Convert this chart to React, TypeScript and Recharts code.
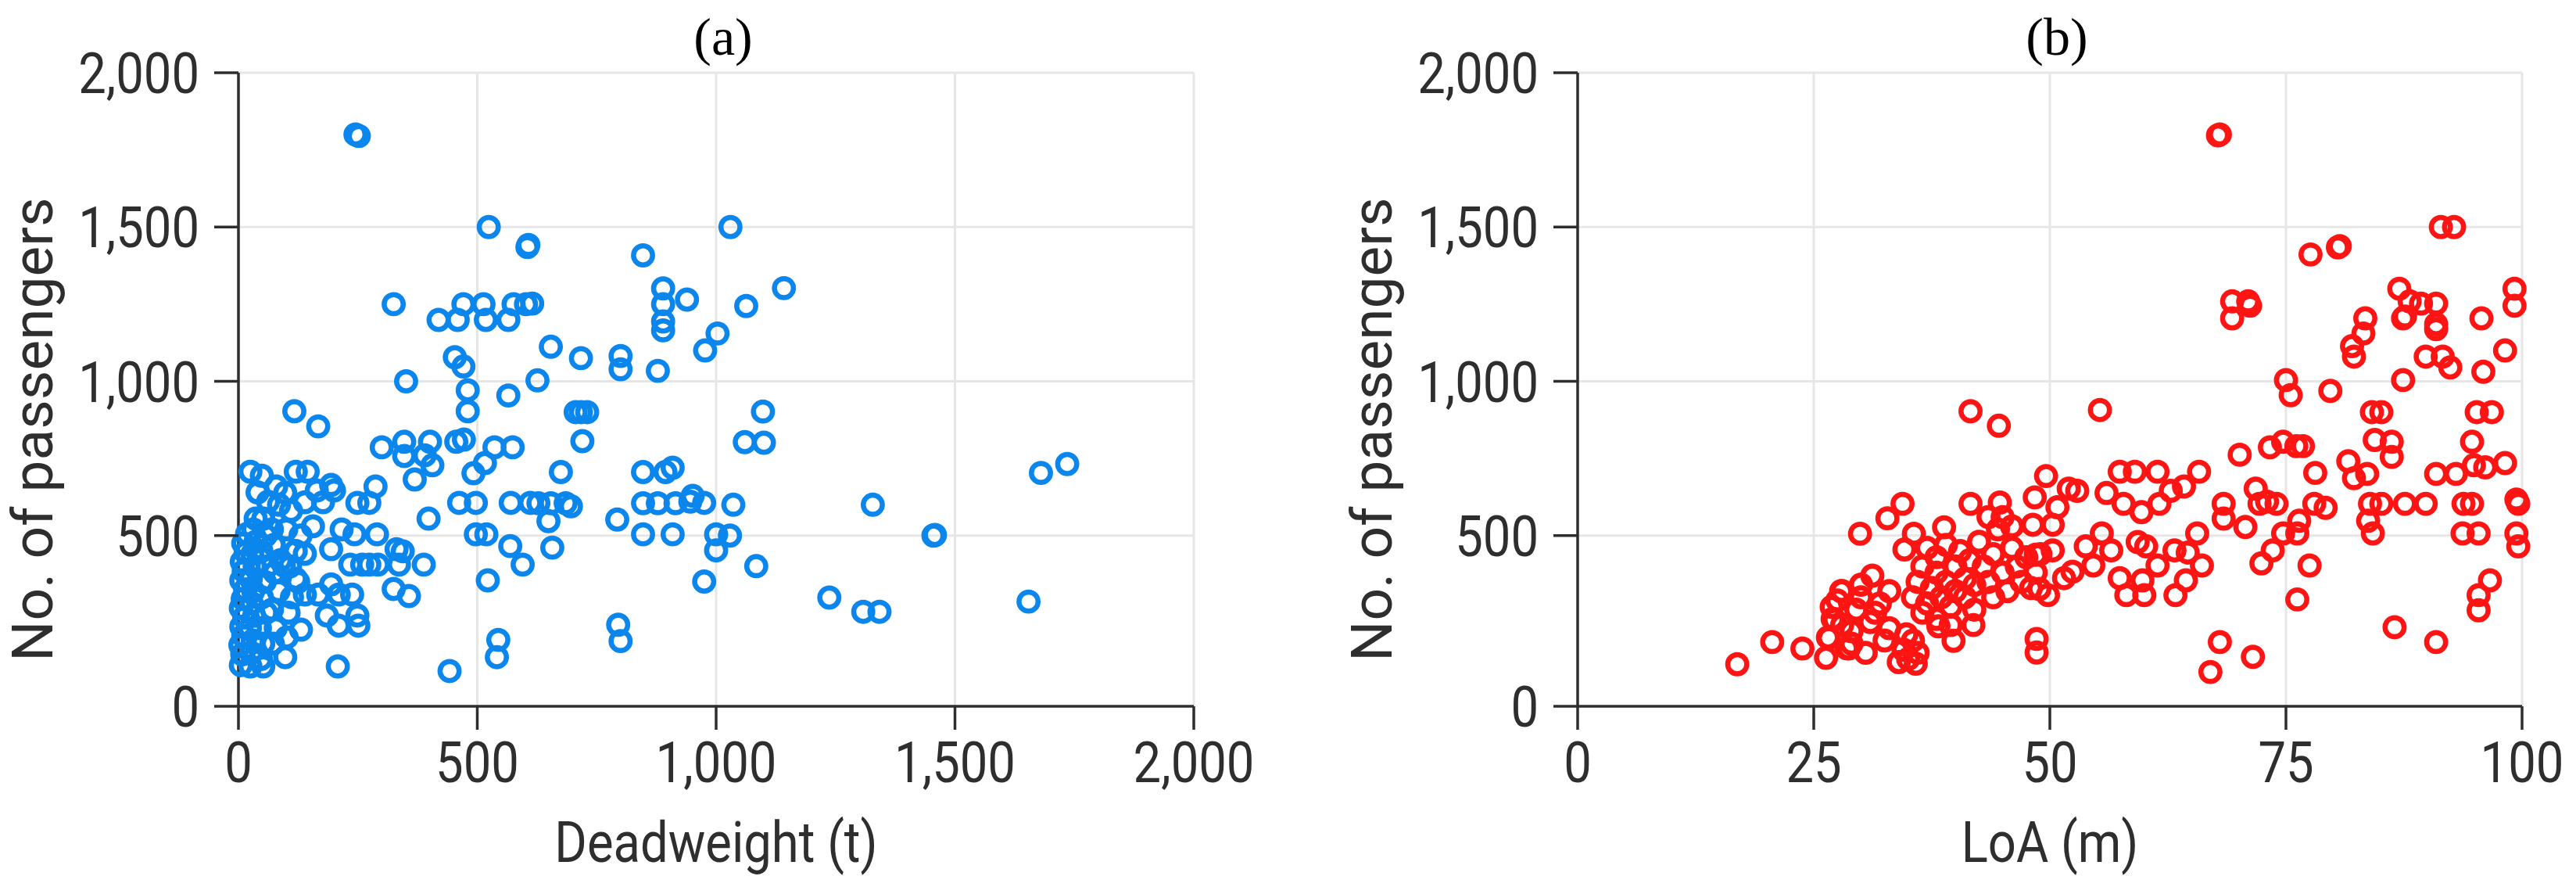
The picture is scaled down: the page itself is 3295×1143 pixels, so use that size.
import { ScatterChart, Scatter, XAxis, YAxis, CartesianGrid } from "recharts";

// [deadweight (t), no. of passengers]
const deadweightPoints: [number, number][] = [
  [245, 1800], [252, 1795], [524, 1500], [1030, 1500], [605, 1435], [607, 1442], [847, 1408],
  [1142, 1302], [325, 1250], [419, 1199], [459, 1199], [471, 1250], [513, 1250], [518, 1199],
  [565, 1199], [576, 1250], [602, 1250], [615, 1252], [889, 1301], [889, 1250], [939, 1265],
  [889, 1194], [889, 1165], [1003, 1155], [977, 1100], [1063, 1244], [654, 1112], [453, 1078],
  [471, 1048], [717, 1075], [800, 1082], [800, 1039], [878, 1034], [351, 1000], [480, 971],
  [480, 903], [626, 1003], [565, 954], [706, 900], [717, 900], [730, 900], [1098, 902], [117, 903],
  [167, 854], [720, 806], [1060, 803], [1100, 801], [300, 786], [347, 804], [347, 758], [401, 804],
  [390, 760], [406, 728], [369, 682], [456, 804], [472, 811], [492, 702], [516, 735], [536, 786],
  [574, 786], [462, 606], [497, 606], [570, 606], [611, 606], [628, 605], [654, 605], [685, 605],
  [696, 595], [398, 555], [497, 504], [519, 504], [569, 466], [595, 406], [522, 355], [544, 162],
  [541, 106], [442, 61], [649, 547], [675, 706], [657, 461], [793, 552], [847, 605], [878, 605],
  [915, 605], [946, 610], [951, 629], [847, 706], [894, 706], [909, 720], [847, 504], [909, 504],
  [795, 211], [800, 158], [1735, 732], [1680, 703], [975, 606], [1036, 600], [1328, 600],
  [1000, 504], [1029, 500], [1000, 452], [1455, 500], [1458, 502], [975, 351], [1084, 401],
  [1237, 299], [1308, 253], [1342, 253], [1654, 286],
  [25, 707], [49, 694], [79, 659], [120, 707], [145, 707], [98, 639], [110, 580], [139, 608],
  [164, 646], [177, 608], [200, 646], [194, 664], [249, 606], [274, 606], [287, 659], [243, 504],
  [290, 504], [194, 456], [139, 441], [52, 555], [36, 555], [70, 520], [156, 530], [216, 520],
  [234, 406], [259, 406], [274, 406], [292, 406], [331, 456], [344, 449], [336, 406], [388, 406],
  [325, 327], [357, 304], [238, 309], [210, 309], [194, 342], [139, 309], [167, 309], [120, 360],
  [95, 403], [185, 241], [210, 208], [251, 208], [249, 241], [131, 195], [101, 170], [98, 106],
  [52, 76], [25, 76], [208, 76],
  [5, 80], [8, 115], [4, 145], [10, 175], [6, 205], [12, 235], [5, 265], [9, 295], [14, 325],
  [6, 355], [11, 385], [7, 415], [15, 445], [10, 475], [18, 505], [27, 120], [30, 160], [24, 200],
  [33, 240], [28, 280], [31, 320], [26, 360], [34, 400], [29, 440], [36, 480], [31, 520], [47, 100],
  [52, 150], [45, 200], [58, 250], [49, 300], [55, 350], [61, 400], [48, 450], [57, 500], [72, 150],
  [78, 200], [70, 260], [84, 320], [76, 380], [88, 420], [74, 470], [105, 250], [112, 300],
  [125, 350], [108, 400], [120, 450], [130, 500], [100, 520], [62, 610], [40, 640], [85, 600],
];

// [LoA (m), no. of passengers]
const loaPoints: [number, number][] = [
  [67.8, 1797], [68.0, 1800], [69.3, 1259], [71.0, 1259], [69.3, 1204], [71.2, 1245], [77.6, 1411],
  [80.5, 1434], [80.7, 1438], [91.4, 1500], [92.8, 1500], [87.0, 1300], [88.1, 1259], [89.3, 1252],
  [90.9, 1252], [87.4, 1204], [87.6, 1210], [90.9, 1169], [90.9, 1185], [83.4, 1204], [83.2, 1155],
  [82.0, 1114], [82.2, 1080], [89.8, 1080], [91.6, 1080], [92.4, 1045], [95.7, 1204], [99.2, 1300],
  [99.2, 1245], [98.2, 1100], [95.9, 1031], [87.4, 1004], [75.0, 1004], [75.5, 955], [79.7, 969],
  [84.1, 900], [85.1, 900], [84.4, 810], [86.2, 804], [86.2, 755], [95.2, 900], [96.8, 900],
  [94.7, 804], [90.9, 700], [93.0, 700], [94.9, 728], [96.1, 721], [98.2, 735], [99.4, 617],
  [99.6, 603], [99.5, 610], [83.9, 603], [85.1, 603], [87.6, 603], [89.8, 603], [93.8, 603],
  [94.7, 603], [83.7, 548], [84.2, 507], [93.7, 507], [95.4, 507], [99.4, 507], [99.6, 465],
  [96.6, 355], [95.4, 307], [95.4, 258], [86.5, 203], [90.9, 155], [81.6, 741], [82.2, 686],
  [83.6, 700], [78.1, 703], [73.3, 786], [74.7, 804], [76.1, 790], [76.8, 790], [70.1, 762],
  [71.8, 652], [72.2, 603], [74.0, 603], [73.0, 610], [68.4, 603], [68.4, 555], [70.7, 528],
  [78.0, 603], [79.2, 590], [74.7, 507], [76.4, 548], [76.2, 507], [73.6, 452], [72.4, 410],
  [77.5, 403], [76.2, 293], [68.0, 155], [71.5, 107], [67.0, 58], [55.3, 907],
  [49.6, 693], [48.4, 624], [50.8, 592], [52.0, 652], [52.9, 645], [57.4, 707], [59.0, 707],
  [61.4, 707], [65.8, 707], [56.0, 638], [57.8, 603], [59.7, 576], [61.6, 603], [62.8, 645],
  [64.2, 659], [65.6, 507], [64.6, 445], [66.1, 403], [48.2, 535], [50.3, 535], [48.5, 438],
  [50.3, 452], [48.9, 327], [49.8, 307], [51.5, 362], [52.4, 383], [53.8, 465], [55.5, 507],
  [56.5, 452], [54.6, 403], [57.4, 362], [58.1, 307], [60.0, 307], [59.8, 355], [59.3, 479],
  [60.2, 465], [61.4, 403], [63.2, 452], [64.4, 355], [63.3, 307], [48.6, 165], [48.6, 121],
  [41.6, 903], [44.6, 856], [16.9, 83], [20.6, 155], [23.8, 134], [26.3, 104], [29.9, 506],
  [32.8, 556], [34.4, 603], [35.6, 506], [34.6, 455], [38.8, 527], [41.6, 603], [44.7, 607],
  [39.8, 159], [41.9, 210], [38.2, 206], [30.0, 341], [31.2, 370], [27.9, 320], [26.9, 269],
  [27.2, 227], [28.7, 134], [26.6, 168],
  [26.5, 170], [27.0, 230], [28.0, 320], [28.5, 135], [29.0, 190], [29.5, 260], [30.0, 300],
  [31.0, 220], [32.0, 280], [32.5, 160], [33.0, 320], [30.5, 120], [29.0, 150], [28.0, 210],
  [31.5, 250], [33.0, 200], [27.5, 290],
  [34.0, 90], [34.5, 130], [35.0, 100], [35.5, 160], [36.0, 120], [34.8, 180], [35.8, 85],
  [35.5, 300], [36.0, 350], [36.5, 400], [37.0, 280], [37.5, 330], [38.0, 380], [38.0, 430],
  [38.5, 300], [39.0, 350], [39.5, 270], [40.0, 320], [40.0, 400], [40.5, 450], [41.0, 300],
  [41.0, 360], [41.5, 420], [42.0, 340], [37.0, 460], [39.0, 470], [36.5, 250], [38.0, 230],
  [39.5, 210], [42.0, 260],
  [42.5, 480], [43.0, 400], [43.5, 350], [44.0, 440], [44.5, 520], [45.0, 380], [45.5, 320],
  [46.0, 460], [46.5, 400], [47.0, 350], [47.5, 430], [48.0, 330], [48.5, 380], [49.0, 440],
  [43.5, 560], [45.0, 560], [46.0, 530], [44.0, 300],
];

const deadweightTicks = [0, 500, 1000, 1500, 2000];
const loaTicks = [0, 25, 50, 75, 100];
const passengerTicks = [0, 500, 1000, 1500, 2000];

const HEIGHT = 1143;
const TOP = 93;
const AXIS_Y = 903;
const ZERO_PAD = 21; // the x axis sits a little below the zero line
const INK = "#2e2e2e";
const FONT = "Roboto, sans-serif";

const fmt = (v: number) =>
  v >= 1000 ? `${Math.floor(v / 1000)},${String(v % 1000).padStart(3, "0")}` : String(v);

interface PanelProps {
  points: [number, number][];
  color: string;
  xTicks: number[];
  xTitle: string;
  tag: string;
  width: number;
  axisWidth: number;
  rightMargin: number;
}

function Panel({ points, color, xTicks, xTitle, tag, width, axisWidth, rightMargin }: PanelProps) {
  const data = points.map(([x, y]) => ({ x, y }));
  const plotRight = width - rightMargin;
  const center = (axisWidth + plotRight) / 2;
  const xMax = xTicks[xTicks.length - 1];

  const yTick = (props: any) => {
    const v = props.payload.value;
    const ty = v === 0 ? AXIS_Y : props.y;
    return (
      <g>
        <line x1={axisWidth - 31} y1={ty} x2={axisWidth} y2={ty} stroke={INK} strokeWidth={3.5} />
        <text
          transform={`translate(${axisWidth - 50},${ty + 26}) scale(0.88,1)`}
          textAnchor="end"
          fontFamily={FONT}
          fontSize={72}
          fill={INK}
        >
          {fmt(v)}
        </text>
      </g>
    );
  };

  const xTick = (props: any) => (
    <text
      transform={`translate(${props.x},1000) scale(0.88,1)`}
      textAnchor="middle"
      fontFamily={FONT}
      fontSize={72}
      fill={INK}
    >
      {fmt(props.payload.value)}
    </text>
  );

  return (
    <ScatterChart
      width={width}
      height={HEIGHT}
      margin={{ top: TOP, right: rightMargin, bottom: 0, left: 0 }}
    >
      <CartesianGrid
        stroke="#e6e6e6"
        strokeWidth={3}
        horizontalValues={[500, 1000, 1500, 2000]}
        verticalValues={xTicks.slice(1)}
      />
      <XAxis
        type="number"
        dataKey="x"
        domain={[0, xMax]}
        ticks={xTicks}
        interval={0}
        height={HEIGHT - AXIS_Y}
        tickSize={30}
        tickLine={{ stroke: INK, strokeWidth: 3.5 }}
        axisLine={{ stroke: INK, strokeWidth: 3.5 }}
        tick={xTick}
        label={() => (
          <text
            transform={`translate(${center},1102) scale(0.88,1)`}
            textAnchor="middle"
            fontFamily={FONT}
            fontSize={72}
            fill={INK}
          >
            {xTitle}
          </text>
        )}
      />
      <YAxis
        type="number"
        dataKey="y"
        domain={[0, 2000]}
        ticks={passengerTicks}
        interval={0}
        width={axisWidth}
        padding={{ top: 0, bottom: ZERO_PAD }}
        tickLine={false}
        axisLine={{ stroke: INK, strokeWidth: 3.5 }}
        tick={yTick}
        label={() => (
          <g>
            <text
              transform={`translate(${axisWidth - 238},549) rotate(-90)`}
              textAnchor="middle"
              fontFamily={FONT}
              fontSize={73}
              fill={INK}
            >
              No. of passengers
            </text>
            <text
              x={center + 9}
              y={70}
              textAnchor="middle"
              fontFamily="'Liberation Serif', 'Times New Roman', serif"
              fontSize={68}
              fill="#000"
            >
              {tag}
            </text>
          </g>
        )}
      />
      <Scatter
        data={data}
        isAnimationActive={false}
        shape={(p: any) => (
          <circle cx={p.cx} cy={p.cy} r={12.2} fill="none" stroke={color} strokeWidth={6.5} />
        )}
      />
    </ScatterChart>
  );
}

export default function App() {
  return (
    <div
      style={{
        position: "absolute",
        left: 0,
        top: 0,
        width: 3295,
        height: HEIGHT,
        display: "flex",
        background: "#fff",
      }}
    >
      <Panel
        points={deadweightPoints}
        color="#0a86ec"
        xTicks={deadweightTicks}
        xTitle="Deadweight (t)"
        tag="(a)"
        width={1650}
        axisWidth={305}
        rightMargin={123}
      />
      <Panel
        points={loaPoints}
        color="#ff1414"
        xTicks={loaTicks}
        xTitle="LoA (m)"
        tag="(b)"
        width={1645}
        axisWidth={368}
        rightMargin={69}
      />
    </div>
  );
}
